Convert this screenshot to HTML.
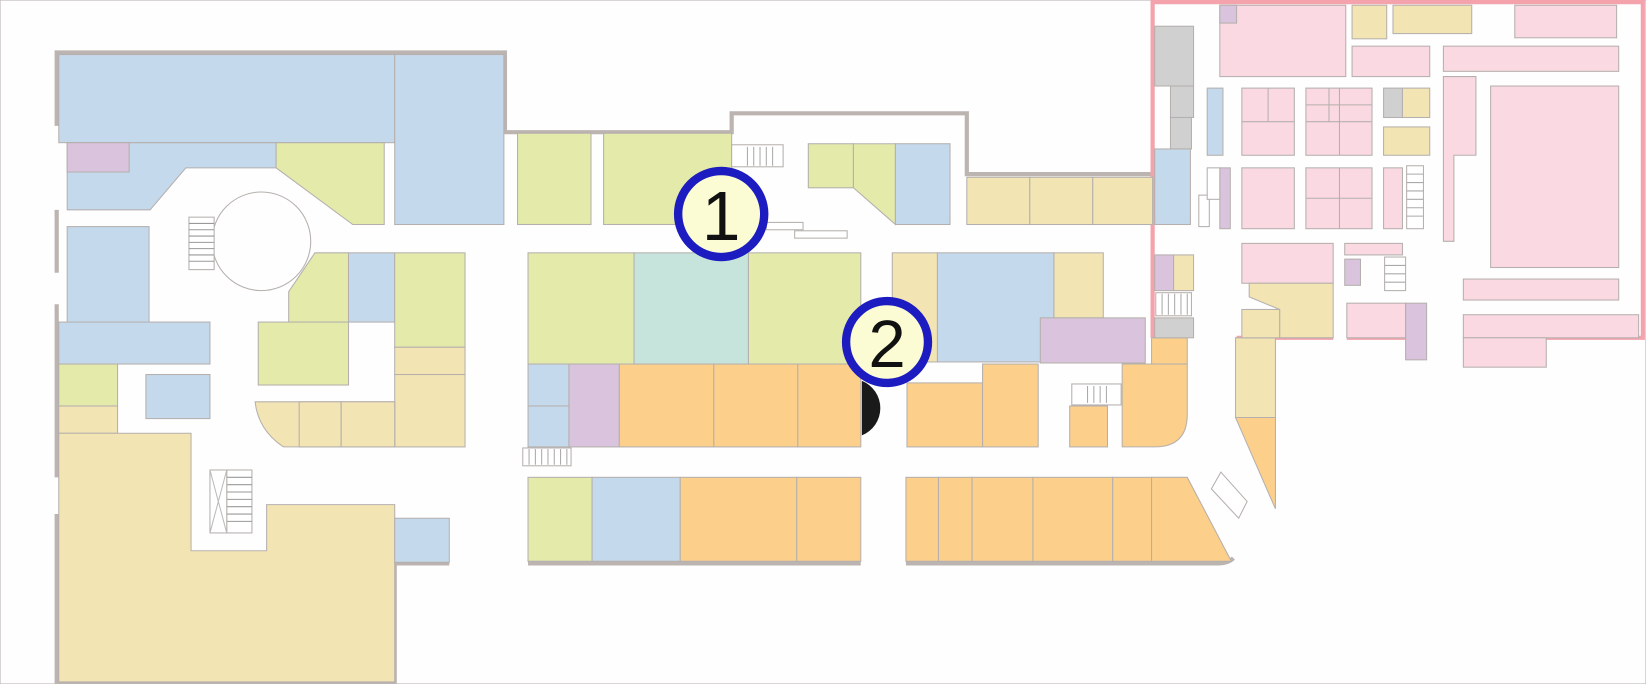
<!DOCTYPE html>
<html><head><meta charset="utf-8"><style>
html,body{margin:0;padding:0;background:#fefefe;width:1646px;height:684px;overflow:hidden}
svg{display:block}
.b{fill:#c5d9ec}.g{fill:#e3eaaa}.y{fill:#f3e5b3}.o{fill:#fcd08a}.p{fill:#d9c3dd}.k{fill:#fbd9e3}.t{fill:#c6e3dc}.gr{fill:#d0d0d0}
rect,polygon,path.s{stroke:#b5b0ad;stroke-width:1}
</style></head><body>
<svg width="1646" height="684" viewBox="0 0 1568 652" preserveAspectRatio="none" font-family="Liberation Sans, sans-serif">
<rect x="0" y="0" width="1568" height="652" fill="#fefefe" stroke="none"/>
<!-- walls -->
<path d="M54,120 V50 H481 V126 H697 V108 H921 V166 H1098" fill="none" stroke="#bcb4b0" stroke-width="4"/>
<path d="M54,200 V260 M54,290 V455 M54,490 V650 H376 V537 H428 M503,537 H820 M863,537 H1160 Q1170,537 1175,532" fill="none" stroke="#bcb4b0" stroke-width="4"/>
<path d="M1098,0 V322 M1098,2 H1565 V322 H1394 M1357,322 H1283 M1270,322 H1178" fill="none" stroke="#f4a3ad" stroke-width="4"/>
<!-- left block -->
<rect class="b" x="56" y="52" width="320" height="84"/>
<polygon class="b" points="64,136 263,136 263,160 177,160 143,200 64,200"/>
<rect class="b" x="376" y="52" width="104" height="162"/>
<rect class="p" x="64" y="136" width="59" height="28"/>
<polygon class="g" points="263,136 366,136 366,214 336,214 263,160"/>
<rect class="g" x="493" y="127" width="70" height="87"/>
<rect class="g" x="575" y="127" width="122" height="87"/>
<circle cx="249" cy="230" r="47" fill="#fefefe" stroke="#b5b0ad"/>
<rect class="b" x="64" y="216" width="78" height="92"/>
<rect class="b" x="56" y="307" width="144" height="40"/>
<rect class="g" x="56" y="347" width="56" height="40"/>
<rect class="y" x="56" y="387" width="56" height="26"/>
<rect class="b" x="139" y="357" width="61" height="42"/>
<polygon class="y" points="56,413 182,413 182,525 254,525 254,481 376,481 376,650 56,650"/>
<rect class="b" x="376" y="494" width="52" height="42"/>
<polygon class="g" points="275,278 300,241 332,241 332,307 275,307"/>
<rect class="b" x="332" y="241" width="44" height="66"/>
<rect class="g" x="376" y="241" width="67" height="90"/>
<rect class="y" x="376" y="331" width="67" height="26"/>
<rect class="y" x="376" y="357" width="67" height="69"/>
<rect class="g" x="246" y="307" width="86" height="60"/>
<path class="s" d="M243,383 H376 V426 H270 Q246,410 243,383 Z" style="fill:#f3e5b3"/>
<rect class="y" x="285" y="383" width="40" height="43"/>
<rect class="y" x="325" y="383" width="51" height="43"/>
<!-- stairs -->
<rect x="180" y="207" width="24" height="50" fill="#fff" stroke="#999"/>
<path d="M180,213H204M180,219H204M180,225H204M180,231H204M180,237H204M180,243H204M180,249H204" stroke="#999"/>
<rect x="216" y="448" width="24" height="60" fill="#fff" stroke="#999"/>
<path d="M216,455H240M216,462H240M216,469H240M216,476H240M216,483H240M216,490H240M216,497H240" stroke="#999"/>
<rect x="200" y="448" width="16" height="60" fill="#fff" stroke="#999"/>
<path d="M200,448L216,508M216,448L200,508" stroke="#bbb"/>
<rect x="697" y="138" width="49" height="21" fill="#fff" stroke="#999"/>
<path d="M712,140V158M718,140V158M724,140V158M730,140V158M736,140V158" stroke="#aaa"/>
<rect x="498" y="427" width="46" height="17" fill="#fff" stroke="#999"/>
<path d="M504,428V443M510,428V443M516,428V443M522,428V443M528,428V443M534,428V443M540,428V443" stroke="#aaa"/>
<!-- middle -->
<rect class="g" x="770" y="137" width="43" height="42"/>
<polygon class="g" points="813,137 853,137 853,214 813,179"/>
<rect class="b" x="853" y="137" width="52" height="77"/>
<rect class="y" x="921" y="169" width="60" height="45"/>
<rect class="y" x="981" y="169" width="60" height="45"/>
<rect class="y" x="1041" y="169" width="57" height="45"/>
<rect class="g" x="503" y="241" width="101" height="106"/>
<rect class="t" x="604" y="241" width="109" height="106"/>
<rect class="g" x="713" y="241" width="107" height="106"/>
<rect class="b" x="503" y="347" width="39" height="40"/>
<rect class="b" x="503" y="387" width="39" height="39"/>
<rect class="p" x="542" y="347" width="48" height="79"/>
<rect class="o" x="590" y="347" width="90" height="79"/>
<rect class="o" x="680" y="347" width="80" height="79"/>
<rect class="o" x="760" y="347" width="60" height="79"/>
<path d="M821,363 A28,28 0 0 1 821,415 Z" fill="#1a1a1a"/>
<rect class="y" x="850" y="241" width="43" height="104"/>
<rect class="b" x="893" y="241" width="111" height="104"/>
<rect class="y" x="1004" y="241" width="47" height="62"/>
<rect class="p" x="991" y="303" width="100" height="43"/>
<rect class="o" x="864" y="365" width="72" height="61"/>
<rect class="o" x="936" y="347" width="53" height="79"/>
<rect class="o" x="1019" y="387" width="36" height="39"/>
<rect x="1021" y="366" width="47" height="20" fill="#fff" stroke="#999"/>
<path d="M1036,368V384M1042,368V384M1048,368V384M1054,368V384" stroke="#aaa"/>
<path class="s" d="M1069,347 H1131 V395 Q1131,426 1100,426 H1069 Z" style="fill:#fcd08a"/>
<rect class="o" x="1097" y="322" width="34" height="25"/>
<rect class="g" x="503" y="455" width="61" height="80"/>
<rect class="b" x="564" y="455" width="84" height="80"/>
<rect class="o" x="648" y="455" width="111" height="80"/>
<rect class="o" x="759" y="455" width="61" height="80"/>
<rect class="o" x="863" y="455" width="31" height="80"/>
<rect class="o" x="894" y="455" width="32" height="80"/>
<rect class="o" x="926" y="455" width="58" height="80"/>
<rect class="o" x="984" y="455" width="76" height="80"/>
<rect class="o" x="1060" y="455" width="37" height="80"/>
<polygon class="o" points="1097,455 1131,455 1173,535 1097,535"/>
<polygon class="y" points="1177,322 1215,322 1215,398 1177,398"/>
<polygon class="o" points="1177,398 1215,398 1215,485"/>
<polygon fill="#fff" stroke="#999" points="1163,450 1188,478 1180,494 1154,466"/>
<!-- right pink area -->
<rect class="gr" x="1100" y="25" width="37" height="57"/>
<rect class="gr" x="1115" y="82" width="22" height="30"/>
<rect class="gr" x="1115" y="112" width="20" height="30"/>
<rect class="b" x="1100" y="142" width="34" height="72"/>
<rect class="b" x="1150" y="84" width="15" height="64"/>
<rect class="p" x="1162" y="160" width="10" height="58"/>
<rect class="p" x="1100" y="243" width="18" height="34"/>
<rect class="y" x="1118" y="243" width="19" height="34"/>
<rect class="gr" x="1100" y="303" width="37" height="19"/>
<rect class="k" x="1162" y="5" width="120" height="68"/>
<rect class="p" x="1162" y="5" width="16" height="17"/>
<rect class="y" x="1288" y="5" width="33" height="32"/>
<rect class="y" x="1327" y="5" width="75" height="27"/>
<rect class="k" x="1288" y="44" width="74" height="29"/>
<rect class="k" x="1443" y="5" width="97" height="31"/>
<rect class="k" x="1375" y="44" width="167" height="24"/>
<rect class="k" x="1183" y="84" width="50" height="64"/>
<rect class="k" x="1244" y="84" width="63" height="64"/>
<path d="M1183,116H1233M1208,84V116M1244,100H1307M1244,116H1307M1276,84V148M1266,84V116" stroke="#b5b0ad"/>
<rect class="gr" x="1318" y="84" width="18" height="28"/>
<rect class="y" x="1336" y="84" width="26" height="28"/>
<rect class="y" x="1318" y="121" width="44" height="27"/>
<polygon class="k" points="1375,73 1406,73 1406,148 1385,148 1385,230 1375,230"/>
<rect class="k" x="1420" y="82" width="122" height="173"/>
<rect class="k" x="1183" y="160" width="50" height="58"/>
<rect class="k" x="1244" y="160" width="63" height="58"/>
<path d="M1244,189H1307M1276,160V218" stroke="#b5b0ad"/>
<rect class="k" x="1318" y="160" width="18" height="58"/>
<rect class="k" x="1183" y="232" width="87" height="38"/>
<rect class="k" x="1281" y="232" width="55" height="11"/>
<rect class="p" x="1281" y="247" width="15" height="25"/>
<rect class="k" x="1394" y="266" width="148" height="20"/>
<polygon class="y" points="1190,270 1270,270 1270,322 1219,322 1219,295 1190,283"/>
<rect class="y" x="1183" y="295" width="36" height="27"/>
<rect class="k" x="1283" y="289" width="56" height="33"/>
<rect class="p" x="1339" y="289" width="20" height="54"/>
<rect class="k" x="1394" y="300" width="167" height="22"/>
<rect class="k" x="1394" y="322" width="79" height="28"/>
<rect x="1340" y="158" width="16" height="60" fill="#fff" stroke="#999"/>
<path d="M1340,166H1356M1340,174H1356M1340,182H1356M1340,190H1356M1340,198H1356M1340,206H1356" stroke="#aaa"/>
<rect x="1319" y="245" width="20" height="32" fill="#fff" stroke="#999"/>
<path d="M1319,253H1339M1319,261H1339M1319,269H1339" stroke="#aaa"/>
<rect x="1101" y="279" width="34" height="22" fill="#fff" stroke="#999"/>
<path d="M1107,280V300M1113,280V300M1119,280V300M1125,280V300M1131,280V300" stroke="#aaa"/>
<rect x="1142" y="186" width="10" height="30" fill="#fff" stroke="#999"/>
<rect x="1150" y="160" width="12" height="30" fill="#fff" stroke="#999"/>
<!-- small stairs near 1 -->
<rect x="730" y="212" width="35" height="7" fill="#fff" stroke="#999"/>
<rect x="757" y="220" width="50" height="7" fill="#fff" stroke="#999"/>
<!-- markers -->
<circle cx="687" cy="204" r="41" fill="#fcfcd4" stroke="#1c1cc0" stroke-width="8"/>
<text x="687" y="229" font-size="66" text-anchor="middle" fill="#111">1</text>
<circle cx="845" cy="326" r="39" fill="#fcfcd4" stroke="#1c1cc0" stroke-width="8"/>
<text x="845" y="350" font-size="64" text-anchor="middle" fill="#111">2</text>
</svg>
</body></html>
